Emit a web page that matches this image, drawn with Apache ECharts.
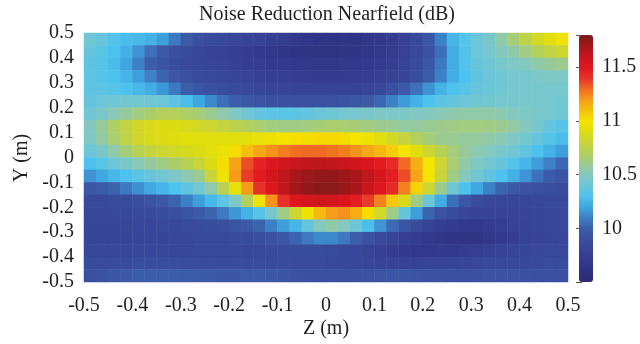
<!DOCTYPE html>
<html><head><meta charset="utf-8">
<script src="https://cdn.jsdelivr.net/npm/echarts@6/dist/echarts.min.js"></script>
<style>html,body{margin:0;padding:0;background:#fff}#c{width:640px;height:344px}</style>
</head><body><div id="c"></div>
<script>
const chartTitle = 'Noise Reduction Nearfield (dB)';
const xName = 'Z (m)';
const yName = 'Y (m)';
// bin centres (Z: left to right, Y: top to bottom)
const zBins = [-0.4875,-0.4625,-0.4375,-0.4125,-0.3875,-0.3625,-0.3375,-0.3125,-0.2875,-0.2625,-0.2375,-0.2125,-0.1875,-0.1625,-0.1375,-0.1125,-0.0875,-0.0625,-0.0375,-0.0125,0.0125,0.0375,0.0625,0.0875,0.1125,0.1375,0.1625,0.1875,0.2125,0.2375,0.2625,0.2875,0.3125,0.3375,0.3625,0.3875,0.4125,0.4375,0.4625,0.4875];
const yBins = [0.475,0.425,0.375,0.325,0.275,0.225,0.175,0.125,0.075,0.025,-0.025,-0.075,-0.125,-0.175,-0.225,-0.275,-0.325,-0.375,-0.425,-0.475];
// noise reduction (dB), one row per Y bin, top to bottom
const r00 = [10.42,10.38,10.32,10.28,10.26,10.24,10.18,10.08,9.98,9.9,9.86,9.84,9.82,9.8,9.78,9.75,9.72,9.68,9.65,9.63,9.62,9.62,9.63,9.65,9.68,9.72,9.78,9.85,9.95,10.1,10.25,10.33,10.4,10.46,10.55,10.65,10.75,10.85,10.93,10.98];
const r01 = [10.38,10.34,10.3,10.24,10.15,10.05,9.97,9.9,9.86,9.83,9.8,9.78,9.76,9.73,9.7,9.67,9.65,9.63,9.62,9.61,9.61,9.62,9.63,9.65,9.68,9.72,9.78,9.84,9.92,10.05,10.22,10.32,10.4,10.45,10.5,10.55,10.62,10.7,10.77,10.82];
const r02 = [10.36,10.33,10.28,10.2,10.1,10.0,9.93,9.88,9.85,9.83,9.81,9.79,9.77,9.75,9.73,9.71,9.69,9.68,9.67,9.66,9.66,9.67,9.68,9.7,9.72,9.75,9.8,9.86,9.95,10.08,10.22,10.32,10.38,10.42,10.45,10.48,10.5,10.55,10.58,10.6];
const r03 = [10.35,10.33,10.3,10.25,10.18,10.1,10.02,9.95,9.9,9.87,9.85,9.83,9.81,9.79,9.77,9.76,9.75,9.74,9.73,9.72,9.72,9.72,9.73,9.74,9.76,9.78,9.82,9.88,9.98,10.1,10.22,10.3,10.36,10.4,10.42,10.44,10.45,10.47,10.48,10.48];
const r04 = [10.36,10.35,10.33,10.3,10.26,10.22,10.16,10.08,10.0,9.95,9.91,9.88,9.86,9.84,9.82,9.81,9.8,9.79,9.79,9.79,9.79,9.79,9.8,9.82,9.85,9.9,9.97,10.06,10.15,10.24,10.3,10.34,10.38,10.4,10.42,10.44,10.45,10.45,10.45,10.45];
const r05 = [10.38,10.4,10.42,10.43,10.43,10.42,10.4,10.35,10.28,10.2,10.12,10.05,10.0,9.96,9.93,9.91,9.9,9.9,9.9,9.91,9.92,9.93,9.95,9.98,10.03,10.1,10.17,10.24,10.3,10.35,10.38,10.4,10.42,10.43,10.44,10.45,10.45,10.45,10.44,10.43];
const r06 = [10.42,10.46,10.52,10.58,10.63,10.67,10.7,10.7,10.68,10.65,10.6,10.54,10.48,10.42,10.38,10.35,10.34,10.35,10.37,10.4,10.42,10.44,10.45,10.46,10.47,10.47,10.47,10.49,10.5,10.52,10.54,10.55,10.55,10.55,10.53,10.5,10.48,10.46,10.44,10.42];
const r07 = [10.5,10.58,10.68,10.77,10.84,10.88,10.9,10.9,10.88,10.85,10.82,10.78,10.74,10.7,10.66,10.63,10.62,10.62,10.63,10.65,10.66,10.66,10.65,10.63,10.61,10.59,10.56,10.57,10.59,10.61,10.62,10.63,10.63,10.62,10.6,10.56,10.5,10.44,10.38,10.33];
const r08 = [10.48,10.56,10.66,10.76,10.84,10.88,10.9,10.91,10.92,10.92,10.92,10.92,10.92,10.93,10.95,10.97,10.99,11.01,11.02,11.03,11.03,11.02,11.0,10.97,10.92,10.85,10.78,10.7,10.64,10.6,10.59,10.58,10.57,10.55,10.52,10.48,10.43,10.38,10.33,10.28];
const r09 = [10.4,10.46,10.55,10.64,10.72,10.78,10.82,10.85,10.87,10.89,10.92,10.96,11.02,11.1,11.17,11.22,11.26,11.29,11.3,11.3,11.28,11.26,11.22,11.17,11.12,11.06,11.0,10.92,10.82,10.72,10.64,10.58,10.53,10.5,10.46,10.42,10.36,10.3,10.24,10.18];
const r10 = [10.3,10.34,10.4,10.46,10.52,10.57,10.62,10.67,10.72,10.8,10.9,11.02,11.18,11.35,11.45,11.52,11.56,11.6,11.62,11.63,11.62,11.6,11.57,11.53,11.48,11.42,11.3,11.15,11.0,10.82,10.66,10.55,10.48,10.43,10.38,10.32,10.25,10.17,10.1,10.03];
const r11 = [10.15,10.2,10.26,10.3,10.34,10.38,10.42,10.47,10.53,10.6,10.8,10.98,11.2,11.38,11.48,11.56,11.62,11.68,11.72,11.74,11.74,11.72,11.68,11.62,11.55,11.47,11.35,11.18,11.0,10.8,10.62,10.5,10.42,10.36,10.3,10.23,10.15,10.06,9.98,9.93];
const r12 = [9.95,9.98,10.02,10.08,10.14,10.2,10.25,10.3,10.36,10.43,10.55,10.72,10.95,11.2,11.4,11.52,11.62,11.7,11.74,11.76,11.76,11.73,11.68,11.6,11.52,11.42,11.25,11.05,10.82,10.6,10.42,10.3,10.2,10.1,10.02,9.96,9.92,9.9,9.89,9.88];
const r13 = [9.85,9.85,9.86,9.87,9.89,9.92,9.96,10.02,10.1,10.18,10.26,10.35,10.48,10.7,10.98,11.22,11.4,11.5,11.55,11.57,11.56,11.53,11.47,11.38,11.25,11.08,10.88,10.62,10.4,10.22,10.05,9.95,9.88,9.84,9.82,9.82,9.82,9.83,9.84,9.85];
const r14 = [9.83,9.83,9.84,9.84,9.85,9.86,9.88,9.9,9.93,9.97,10.02,10.08,10.16,10.24,10.33,10.45,10.62,10.82,10.98,11.12,11.2,11.22,11.15,11.02,10.85,10.62,10.38,10.18,10.02,9.92,9.86,9.82,9.8,9.79,9.79,9.8,9.81,9.82,9.83,9.84];
const r15 = [9.82,9.82,9.82,9.82,9.83,9.83,9.84,9.85,9.86,9.87,9.88,9.9,9.93,9.97,10.02,10.1,10.18,10.25,10.38,10.5,10.55,10.5,10.4,10.28,10.15,10.04,9.94,9.86,9.8,9.75,9.72,9.7,9.7,9.72,9.75,9.78,9.8,9.82,9.83,9.84];
const r16 = [9.82,9.81,9.81,9.81,9.82,9.82,9.82,9.83,9.83,9.84,9.84,9.85,9.86,9.87,9.89,9.92,9.96,10.02,10.08,10.12,10.12,10.08,10.0,9.92,9.85,9.8,9.76,9.72,9.68,9.65,9.63,9.62,9.63,9.66,9.7,9.74,9.78,9.8,9.82,9.83];
const r17 = [9.83,9.83,9.83,9.83,9.83,9.83,9.83,9.83,9.83,9.84,9.84,9.84,9.84,9.85,9.85,9.86,9.87,9.88,9.88,9.88,9.87,9.85,9.83,9.8,9.77,9.73,9.7,9.68,9.68,9.69,9.7,9.72,9.75,9.77,9.79,9.81,9.82,9.83,9.84,9.85];
const r18 = [9.86,9.86,9.87,9.87,9.88,9.88,9.88,9.88,9.87,9.87,9.86,9.86,9.86,9.86,9.86,9.86,9.86,9.86,9.86,9.86,9.85,9.84,9.83,9.82,9.8,9.79,9.78,9.78,9.79,9.8,9.81,9.82,9.83,9.84,9.84,9.85,9.85,9.85,9.86,9.86];
const r19 = [9.9,9.92,9.95,9.97,9.99,10.0,10.0,10.0,9.99,9.98,9.97,9.96,9.96,9.97,9.97,9.96,9.94,9.92,9.91,9.9,9.9,9.9,9.91,9.92,9.93,9.94,9.94,9.93,9.92,9.91,9.9,9.9,9.91,9.92,9.92,9.92,9.91,9.9,9.9,9.9];
const rows = [r00,r01,r02,r03,r04,r05,r06,r07,r08,r09,r10,r11,r12,r13,r14,r15,r16,r17,r18,r19];
// colour scale 9.5 .. 11.8 in 0.1 steps
const cbMin = 9.5, cbMax = 11.8;
const cbTicks = [10, 10.5, 11, 11.5];
const cbColors = ['#2b2a77','#2f3283','#333a8d','#374496','#3a4f9f','#3b5daa','#3c80c5','#3fa8e0','#4ec2ee','#6cc6d8','#84c8c0','#9ccb90','#b3d05a','#c9d43a','#dcdc12','#f5e400','#f7c00c','#f59c1a','#ef6a22','#e6302a','#e0161e','#c8161c','#a3171a','#7a1a1a'];

const data = [];
rows.forEach((row, j) => row.forEach((v, i) => data.push([i, j, v])));

const FONT = 'Liberation Serif';
const TXT = '#231f20';
const chart = echarts.init(document.getElementById('c'), null, {renderer: 'canvas'});
chart.setOption({
  animation: false,
  backgroundColor: '#fff',
  grid: [
    {left: 84, top: 33, width: 484, height: 249},
    {left: 579, top: 35, width: 14, height: 247}
  ],
  xAxis: [
    {type: 'category', gridIndex: 0, data: zBins, show: false},
    {type: 'value', gridIndex: 0, min: -0.5, max: 0.5, interval: 0.1, position: 'bottom',
     axisLine: {show: false}, axisTick: {show: false}, splitLine: {show: false},
     axisLabel: {fontFamily: FONT, fontSize: 20, color: TXT, margin: 14}},
    {type: 'value', gridIndex: 1, show: false, min: 0, max: 1}
  ],
  yAxis: [
    {type: 'category', gridIndex: 0, data: yBins, show: false, inverse: true},
    {type: 'value', gridIndex: 0, min: -0.5, max: 0.5, interval: 0.1, position: 'left',
     axisLine: {show: false}, axisTick: {show: false}, splitLine: {show: false},
     axisLabel: {fontFamily: FONT, fontSize: 20, color: TXT, margin: 10}},
    {type: 'value', gridIndex: 1, min: cbMin, max: cbMax, interval: 0.5, position: 'right',
     axisLine: {show: false}, splitLine: {show: false},
     axisTick: {show: true, inside: true, length: 3, lineStyle: {color: '#555'}},
     axisLabel: {fontFamily: FONT, fontSize: 20, color: TXT, margin: 10,
       formatter: v => cbTicks.some(t => Math.abs(t - v) < 1e-6) ? String(v) : ''}},
    {type: 'value', gridIndex: 1, min: cbMin, max: cbMax, interval: 0.5, position: 'left',
     axisLine: {show: false}, splitLine: {show: false},
     axisTick: {show: true, inside: true, length: 3, lineStyle: {color: '#555'}},
     axisLabel: {show: false}}
  ],
  visualMap: {
    type: 'continuous', min: cbMin, max: cbMax, seriesIndex: 0,
    left: 579, top: 35, itemWidth: 14, itemHeight: 247, padding: 0,
    calculable: false, hoverLink: false, text: null, showLabel: false,
    inRange: {color: cbColors}
  },
  series: [{
    type: 'heatmap', xAxisIndex: 0, yAxisIndex: 0, data: data,
    emphasis: {disabled: true}, progressive: 0
  }],
  graphic: [
    {type: 'text', x: 327, y: 15, style: {text: chartTitle, font: '20px "Liberation Serif"', fill: TXT, textAlign: 'center', textVerticalAlign: 'middle'}},
    {type: 'text', x: 326, y: 329, style: {text: xName, font: '20px "Liberation Serif"', fill: TXT, textAlign: 'center', textVerticalAlign: 'middle'}},
    {type: 'text', x: 22, y: 158, rotation: Math.PI / 2, style: {text: yName, font: '20px "Liberation Serif"', fill: TXT, textAlign: 'center', textVerticalAlign: 'middle'}}
  ]
});
</script></body></html>
